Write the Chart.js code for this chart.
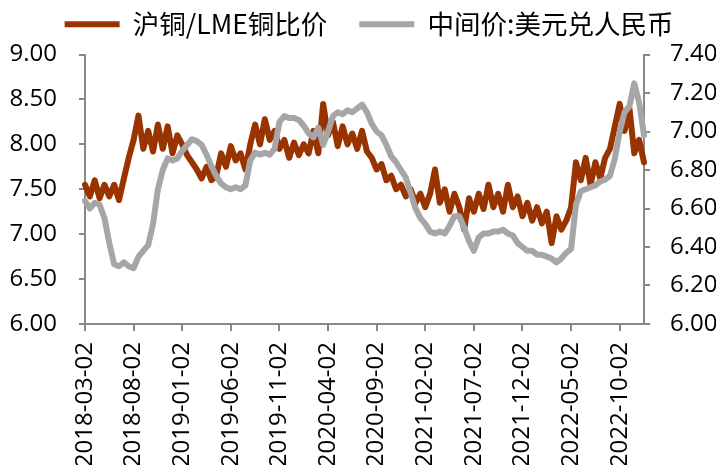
<!DOCTYPE html>
<html>
<head>
<meta charset="utf-8">
<script src="https://cdn.jsdelivr.net/npm/chart.js@4.4.0/dist/chart.umd.min.js"></script>
<style>
  html, body { margin: 0; padding: 0; background: #fff; }
  #wrap { width: 720px; height: 467px; }
</style>
</head>
<body>
<div id="wrap"><canvas id="c"></canvas></div>
<script>
// two samples per month (the 2nd and the 17th), 2018-03 .. 2022-12
var dates = [];
for (var m = 0; m < 58; m++) {
  var y = 2018 + Math.floor((m + 2) / 12);
  var mo = ((m + 2) % 12) + 1;
  var mm = (mo < 10 ? "0" : "") + mo;
  dates.push(y + "-" + mm + "-02");
  dates.push(y + "-" + mm + "-17");
}

// dates that get a label on the x axis
var xTickLabels = ["2018-03-02", "2018-08-02", "2019-01-02", "2019-06-02", "2019-11-02", "2020-04-02",
  "2020-09-02", "2021-02-02", "2021-07-02", "2021-12-02", "2022-05-02", "2022-10-02"];

// 沪铜/LME铜比价 (left axis)
var copperRatio = [
  7.55, 7.42, 7.60, 7.40, 7.55, 7.42, 7.55, 7.38, 7.62, 7.85,
  8.05, 8.32, 7.95, 8.15, 7.92, 8.22, 7.95, 8.20, 7.90, 8.10,
  8.00, 7.88, 7.80, 7.72, 7.62, 7.75, 7.60, 7.65, 7.90, 7.75,
  7.98, 7.82, 7.90, 7.72, 8.00, 8.22, 8.00, 8.28, 8.05, 8.15,
  7.95, 8.05, 7.85, 8.02, 7.88, 8.00, 7.90, 8.15, 7.90, 8.45,
  8.10, 8.25, 7.98, 8.20, 8.00, 8.12, 7.95, 8.15, 7.92, 7.85,
  7.72, 7.78, 7.60, 7.65, 7.50, 7.55, 7.42, 7.50, 7.35, 7.45,
  7.30, 7.45, 7.72, 7.35, 7.50, 7.25, 7.45, 7.30, 7.05, 7.40,
  7.25, 7.45, 7.28, 7.55, 7.30, 7.45, 7.25, 7.55, 7.30, 7.42,
  7.20, 7.35, 7.15, 7.30, 7.12, 7.25, 6.90, 7.20, 7.05, 7.15,
  7.30, 7.80, 7.60, 7.85, 7.55, 7.80, 7.62, 7.85, 7.95, 8.20,
  8.45, 8.15, 8.40, 7.90, 8.05, 7.80
];

// 中间价:美元兑人民币 (right axis)
var usdCny = [
  6.64, 6.60, 6.63, 6.62, 6.55, 6.42, 6.31, 6.30, 6.32, 6.30,
  6.29, 6.35, 6.38, 6.41, 6.52, 6.70, 6.80, 6.86, 6.85, 6.86,
  6.90, 6.93, 6.96, 6.95, 6.93, 6.88, 6.82, 6.77, 6.73, 6.71,
  6.70, 6.71, 6.70, 6.72, 6.85, 6.89, 6.88, 6.89, 6.88, 6.91,
  7.05, 7.08, 7.07, 7.07, 7.06, 7.03, 6.99, 6.97, 7.02, 6.93,
  7.00, 7.08, 7.10, 7.09, 7.11, 7.10, 7.12, 7.14, 7.10, 7.04,
  7.00, 6.98, 6.93, 6.87, 6.84, 6.80, 6.76, 6.68, 6.60, 6.55,
  6.52, 6.48, 6.47, 6.48, 6.47, 6.51, 6.56, 6.56, 6.50, 6.43,
  6.38, 6.45, 6.47, 6.47, 6.48, 6.48, 6.49, 6.47, 6.46, 6.42,
  6.40, 6.38, 6.38, 6.36, 6.36, 6.35, 6.34, 6.32, 6.34, 6.37,
  6.39, 6.62, 6.69, 6.70, 6.71, 6.72, 6.74, 6.75, 6.77, 6.86,
  7.00, 7.10, 7.13, 7.25, 7.15, 6.98
];

var axisColor = "#898989";
var tickFont = { family: "Open Sans", size: 24 };

// push the plot a little further below the legend, and nudge the legend right
var legendGap = {
  id: "legendGap",
  beforeInit: function (chart) {
    var fit = chart.legend.fit;
    chart.legend.fit = function () {
      fit.bind(chart.legend)();
      this.height += 7;
    };
  },
  afterLayout: function (chart) {
    chart.legend.left += 9;
    chart.legend.right += 9;
  }
};

new Chart(document.getElementById("c"), {
  type: "line",
  data: {
    labels: dates,
    datasets: [
      {
        label: "沪铜/LME铜比价",
        data: copperRatio,
        yAxisID: "y",
        borderColor: "#993300",
        backgroundColor: "#993300",
        borderWidth: 6,
        order: 1
      },
      {
        label: "中间价:美元兑人民币",
        data: usdCny,
        yAxisID: "y1",
        borderColor: "#a6a6a6",
        backgroundColor: "#a6a6a6",
        borderWidth: 6,
        order: 0
      }
    ]
  },
  plugins: [legendGap],
  options: {
    responsive: true,
    maintainAspectRatio: false,
    animation: false,
    layout: { padding: { left: 4, right: 4, top: -21, bottom: 2 } },
    elements: {
      point: { radius: 0 },
      line: { tension: 0, borderJoinStyle: "round", borderCapStyle: "round" }
    },
    plugins: {
      tooltip: { enabled: false },
      legend: {
        position: "top",
        labels: {
          font: { family: "Noto Sans CJK SC", size: 26.5 },
          color: "#000",
          boxWidth: 55,
          boxHeight: 6,
          padding: 32,
          sort: function (a, b) { return a.datasetIndex - b.datasetIndex; },
          generateLabels: function (chart) {
            var items = Chart.defaults.plugins.legend.labels.generateLabels(chart);
            items.forEach(function (it) {
              it.lineWidth = 0;
              it.fillStyle = it.strokeStyle;
            });
            return items;
          }
        }
      }
    },
    scales: {
      x: {
        grid: { display: true, drawOnChartArea: false, drawTicks: true, tickLength: 7, color: axisColor, lineWidth: 2 },
        border: { display: true, color: axisColor, width: 2 },
        ticks: {
          autoSkip: false,
          maxRotation: 90,
          minRotation: 90,
          padding: 11,
          color: "#000",
          font: tickFont,
          callback: function (val, idx) {
            var d = dates[idx];
            return xTickLabels.indexOf(d) >= 0 ? d : null;
          }
        },
        afterFit: function (scale) {
          scale.height = 141;
          scale.paddingLeft = 0;
          scale.paddingRight = 0;
        }
      },
      y: {
        position: "left",
        min: 6,
        max: 9,
        grid: { display: true, drawOnChartArea: false, drawTicks: true, tickLength: 6, color: axisColor, lineWidth: 2 },
        border: { display: true, color: axisColor, width: 2 },
        ticks: {
          stepSize: 0.5,
          padding: 22,
          color: "#000",
          font: tickFont,
          callback: function (v) { return v.toFixed(2); }
        },
        afterFit: function (scale) {
          scale.width = 81;
          scale.paddingTop = 0;
          scale.paddingBottom = 0;
        }
      },
      y1: {
        position: "right",
        min: 6,
        max: 7.4,
        grid: { display: true, drawOnChartArea: false, drawTicks: true, tickLength: 6, color: axisColor, lineWidth: 2 },
        border: { display: true, color: axisColor, width: 2 },
        ticks: {
          stepSize: 0.2,
          padding: 20,
          color: "#000",
          font: tickFont,
          callback: function (v) { return v.toFixed(2); }
        },
        afterFit: function (scale) {
          scale.width = 72;
          scale.paddingTop = 0;
          scale.paddingBottom = 0;
        }
      }
    }
  }
});
</script>
</body>
</html>
